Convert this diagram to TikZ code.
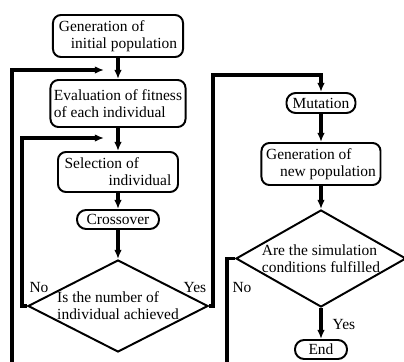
\documentclass[tikz,border=0pt]{standalone}
\usepackage{fontspec}
\setmainfont{Liberation Serif}
\usetikzlibrary{arrows.meta,shapes.geometric}

\begin{document}
\begin{tikzpicture}[x=0.025cm, y=-0.025cm,
		box/.style={draw, line width=1.4pt, rounded corners=2mm, align=left, inner sep=2pt, font=\fontsize{11}{12}\selectfont},
		pill/.style={draw, line width=1.4pt, rounded corners=2.3mm, inner sep=2pt, font=\fontsize{11}{12}\selectfont},
		choice/.style={draw, diamond, line width=1.4pt, inner sep=0pt, align=left, font=\fontsize{11}{12}\selectfont},
		flow/.style={line width=2.3pt, -{Latex[length=2.3mm,width=1.9mm]}},
		link/.style={line width=2.3pt},
		lbl/.style={font=\fontsize{11}{12}\selectfont}]
		%%%%% START %%%%%
		\useasboundingbox (0,0) rectangle (404,362);
		
		% left column
		\node[box, minimum width=3.25cm, minimum height=1.05cm] (initpop) at (118,36) {Generation of\\\hspace*{0.3cm}initial population};
		\node[box, minimum width=3.375cm, minimum height=1.175cm] (fitness) at (118,103.5) {Evaluation of fitness\\of each individual};
		\node[box, minimum width=3cm, minimum height=1cm] (select) at (118,172) {Selection of\\\hspace*{1.1cm}individual};
		\node[pill, minimum width=2.05cm, minimum height=0.475cm] (cross) at (118,219.5) {Crossover};
		\node[choice, aspect=2, minimum width=4.5cm, minimum height=2.3cm] (enough) at (118,306) {Is the number of\\individual achieved};
		
		% right column
		\node[pill, minimum width=1.725cm, minimum height=0.5cm] (mutate) at (321,103) {Mutation};
		\node[box, minimum width=2.975cm, minimum height=1.05cm] (newpop) at (321,164) {Generation of\\\hspace*{0.35cm}new population};
		\node[choice, aspect=1.75, minimum width=4.25cm, minimum height=2.425cm] (done) at (321,258.5) {Are the simulation\\conditions fulfilled};
		\node[pill, minimum width=1.3cm, minimum height=0.475cm] (finish) at (321,349.5) {End};
		
		\node[lbl] (no1) at (39,288) {No};
		\node[lbl] (yes1) at (195,288) {Yes};
		\node[lbl] (no2) at (242,288) {No};
		\node[lbl] (yes2) at (344,325) {Yes};
		
		\coordinate (join0) at (104,70);
		\coordinate (join1) at (104,138);
		\coordinate (edge0) at (12,362);
		\coordinate (edge2) at (227,362);
		\coordinate (top3) at (213,75);
		
		\draw[flow] (initpop) -- (fitness);
		\draw[flow] (fitness) -- (select);
		\draw[flow] (select) -- (cross);
		\draw[flow] (cross) -- (enough);
		\draw[flow] (edge0) |- (join0);
		\draw[flow] (enough.west) -- ++(-5,0) |- (join1);
		\draw[flow] (enough.east) -| (top3) -| (mutate.north);
		
		\draw[flow] (mutate) -- (newpop);
		\draw[flow] (newpop) -- (done);
		\draw[flow] (done) -- (finish);
		\draw[link] (done.west) -| (edge2);
		%%%%% END %%%%%
	\end{tikzpicture}
\end{document}
